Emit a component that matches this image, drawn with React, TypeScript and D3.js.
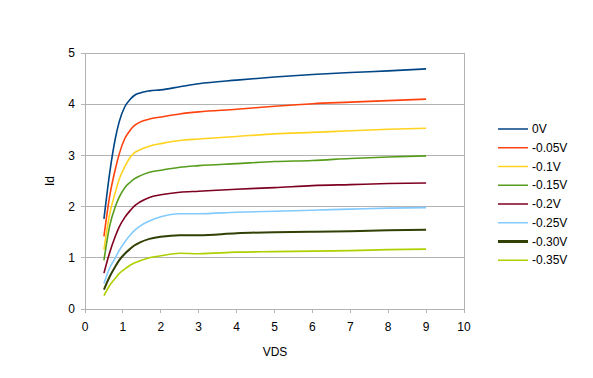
import React from "react";
import * as d3 from "d3";

const vds = [0.5, 0.65, 0.8, 0.9, 1.05, 1.2, 1.3, 1.45, 1.7, 2, 2.5, 3, 4, 5, 6, 7, 8, 9];

const seriesNames = ["0V", "-0.05V", "-0.1V", "-0.15V", "-0.2V", "-0.25V", "-0.30V", "-0.35V"];
const seriesColors = ["#004586", "#ff420e", "#ffd320", "#579d1c", "#7e0021", "#83caff", "#314004", "#aecf00"];

const id0 = [1.76, 2.65, 3.33, 3.65, 3.95, 4.1, 4.17, 4.22, 4.26, 4.28, 4.34, 4.4, 4.47, 4.53, 4.58, 4.62, 4.65, 4.69];
const id005 = [1.42, 2.2, 2.73, 3.02, 3.33, 3.5, 3.58, 3.65, 3.71, 3.75, 3.81, 3.85, 3.9, 3.96, 4.01, 4.04, 4.07, 4.1];
const id01 = [1.16, 1.85, 2.28, 2.53, 2.78, 2.97, 3.05, 3.11, 3.18, 3.23, 3.29, 3.32, 3.37, 3.42, 3.45, 3.48, 3.51, 3.53];
const id015 = [0.95, 1.62, 2.0, 2.18, 2.37, 2.48, 2.54, 2.6, 2.67, 2.71, 2.77, 2.8, 2.84, 2.88, 2.9, 2.94, 2.97, 2.99];
const id02 = [0.7, 1.1, 1.42, 1.6, 1.79, 1.93, 2.01, 2.09, 2.18, 2.23, 2.28, 2.3, 2.34, 2.37, 2.41, 2.43, 2.45, 2.46];
const id025 = [0.5, 0.8, 1.0, 1.14, 1.31, 1.45, 1.53, 1.62, 1.72, 1.8, 1.86, 1.86, 1.89, 1.91, 1.93, 1.95, 1.97, 1.98];
const id030 = [0.38, 0.63, 0.83, 0.95, 1.08, 1.18, 1.24, 1.3, 1.37, 1.41, 1.44, 1.44, 1.48, 1.5, 1.51, 1.52, 1.54, 1.55];
const id035 = [0.26, 0.46, 0.6, 0.69, 0.78, 0.86, 0.9, 0.94, 1.0, 1.04, 1.09, 1.08, 1.11, 1.12, 1.13, 1.14, 1.16, 1.17];

const seriesValues = [id0, id005, id01, id015, id02, id025, id030, id035];

const xTicks = [0, 1, 2, 3, 4, 5, 6, 7, 8, 9, 10];
const yTicks = [0, 1, 2, 3, 4, 5];

const W = 593;
const H = 378;
const left = 85;
const right = 464;
const top = 53;
const bottom = 309;

export default function App() {
  const x = d3.scaleLinear().domain([0, 10]).range([left, right]);
  const y = d3.scaleLinear().domain([0, 5]).range([bottom, top]);
  const line = d3
    .line<number>()
    .x((_, i) => x(vds[i]))
    .y((d) => y(d))
    .curve(d3.curveMonotoneX);
  const grid = "#b3b3b3";
  const font = "'Liberation Sans', Arial, sans-serif";
  return (
    <svg
      width={W}
      height={H}
      style={{ position: "absolute", left: 0, top: 0, background: "#fff" }}
      fontFamily={font}
    >
      <rect x={0} y={0} width={W} height={H} fill="#fff" />
      {yTicks.map((t) => (
        <g key={"y" + t}>
          <line x1={left - 4} x2={right} y1={y(t)} y2={y(t)} stroke={grid} strokeWidth={1} shapeRendering="crispEdges" />
          <text x={left - 10} y={y(t)} dy="0.35em" textAnchor="end" fontSize={12} fill="#000">
            {t}
          </text>
        </g>
      ))}
      {xTicks.map((t) => (
        <g key={"x" + t}>
          <line x1={x(t)} x2={x(t)} y1={bottom} y2={bottom + 4} stroke={grid} strokeWidth={1} shapeRendering="crispEdges" />
          <text x={x(t)} y={bottom + 18} dy="0.35em" textAnchor="middle" fontSize={12} fill="#000">
            {t}
          </text>
        </g>
      ))}
      <line x1={left} x2={left} y1={top} y2={bottom + 4} stroke={grid} strokeWidth={1} shapeRendering="crispEdges" />
      <line x1={right} x2={right} y1={top} y2={bottom} stroke={grid} strokeWidth={1} shapeRendering="crispEdges" />
      {seriesValues.map((vals, i) => (
        <path
          key={seriesNames[i]}
          d={line(vals) || ""}
          fill="none"
          stroke={seriesColors[i]}
          strokeWidth={i === 6 ? 2 : 1.6}
        />
      ))}
      <text x={275} y={352} dy="0.35em" textAnchor="middle" fontSize={12} fill="#000">
        VDS
      </text>
      <text
        transform={`translate(50,${(top + bottom) / 2}) rotate(-90)`}
        dy="0.35em"
        textAnchor="middle"
        fontSize={12}
        fill="#000"
      >
        Id
      </text>
      {seriesNames.map((name, i) => {
        const ly = 129 + i * 18.75;
        return (
          <g key={"lg" + name}>
            <line x1={498} x2={528} y1={ly} y2={ly} stroke={seriesColors[i]} strokeWidth={i === 6 ? 3 : 1.5} />
            <text x={532} y={ly} dy="0.35em" fontSize={12} fill="#000">
              {name}
            </text>
          </g>
        );
      })}
    </svg>
  );
}
